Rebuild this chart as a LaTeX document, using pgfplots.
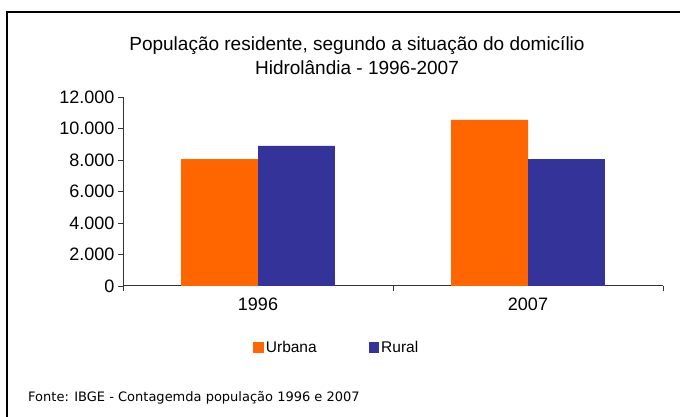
\documentclass[border=0pt]{standalone}
\usepackage{fontspec}
\setmainfont{Liberation Sans}
\newfontfamily\fontefont{DejaVu Sans}
\usepackage{pgfplots}
\pgfplotsset{compat=1.18}
\definecolor{urbana}{HTML}{FF6600}
\definecolor{rural}{HTML}{333399}

\begin{document}
\begin{tikzpicture}[x=1pt,y=1pt]
  \useasboundingbox (0,0) rectangle (680,417);
  % moldura
  \draw[line width=1.6pt] (7,-20) -- (7,405) -- (700,405);
  \node[align=center, font=\fontsize{19}{24}\selectfont] at (357,361)
    {População residente, segundo a situação do domicílio\\Hidrolândia - 1996-2007};
  \begin{axis}[
      at={(123pt,131pt)}, anchor=south west,
      scale only axis, width=540pt, height=189pt,
      xmin=-0.5, xmax=1.5, ymin=0, ymax=12000,
      axis x line=bottom, axis y line=left,
      axis line style={-, line width=1pt, black!80},
      tick align=outside, tick style={black!80, line width=0.8pt},
      xtick={0,1}, xticklabels={1996,2007},
      major x tick style={draw=none},
      minor xtick={-0.5,0.5,1.5}, minor tick length=5pt,
      major tick length=5pt,
      ytick={0,2000,...,12000}, scaled y ticks=false,
      /pgf/number format/assume math mode=true,
      yticklabel style={/pgf/number format/1000 sep={.}},
      xticklabel style={yshift=-3pt},
      ticklabel style={font=\fontsize{18}{18}\selectfont},
      legend style={at={(0.396,-0.328)}, anchor=center, draw=none,
        font=\fontsize{15.5}{16}\selectfont,
        /tikz/every even column/.append style={column sep=50pt}},
      legend columns=2,
    ]
    \addplot[ybar, bar width=0.285, bar shift=-0.1425, fill=urbana, draw=none,
      legend image code/.code={\fill[urbana] (0pt,-5pt) rectangle (10.5pt,5.5pt);}]
      coordinates {(0,8060) (1,10540)};
    \addplot[ybar, bar width=0.285, bar shift=0.1425, fill=rural, draw=none,
      legend image code/.code={\fill[rural] (0pt,-5pt) rectangle (10.5pt,5.5pt);}]
      coordinates {(0,8890) (1,8060)};
    \legend{Urbana, Rural}
  \end{axis}
  \node[anchor=base west, font=\fontefont\fontsize{13}{14}\selectfont, inner sep=0pt]
    at (28,15) {Fonte: IBGE - Contagemda população 1996 e 2007};
\end{tikzpicture}
\end{document}
